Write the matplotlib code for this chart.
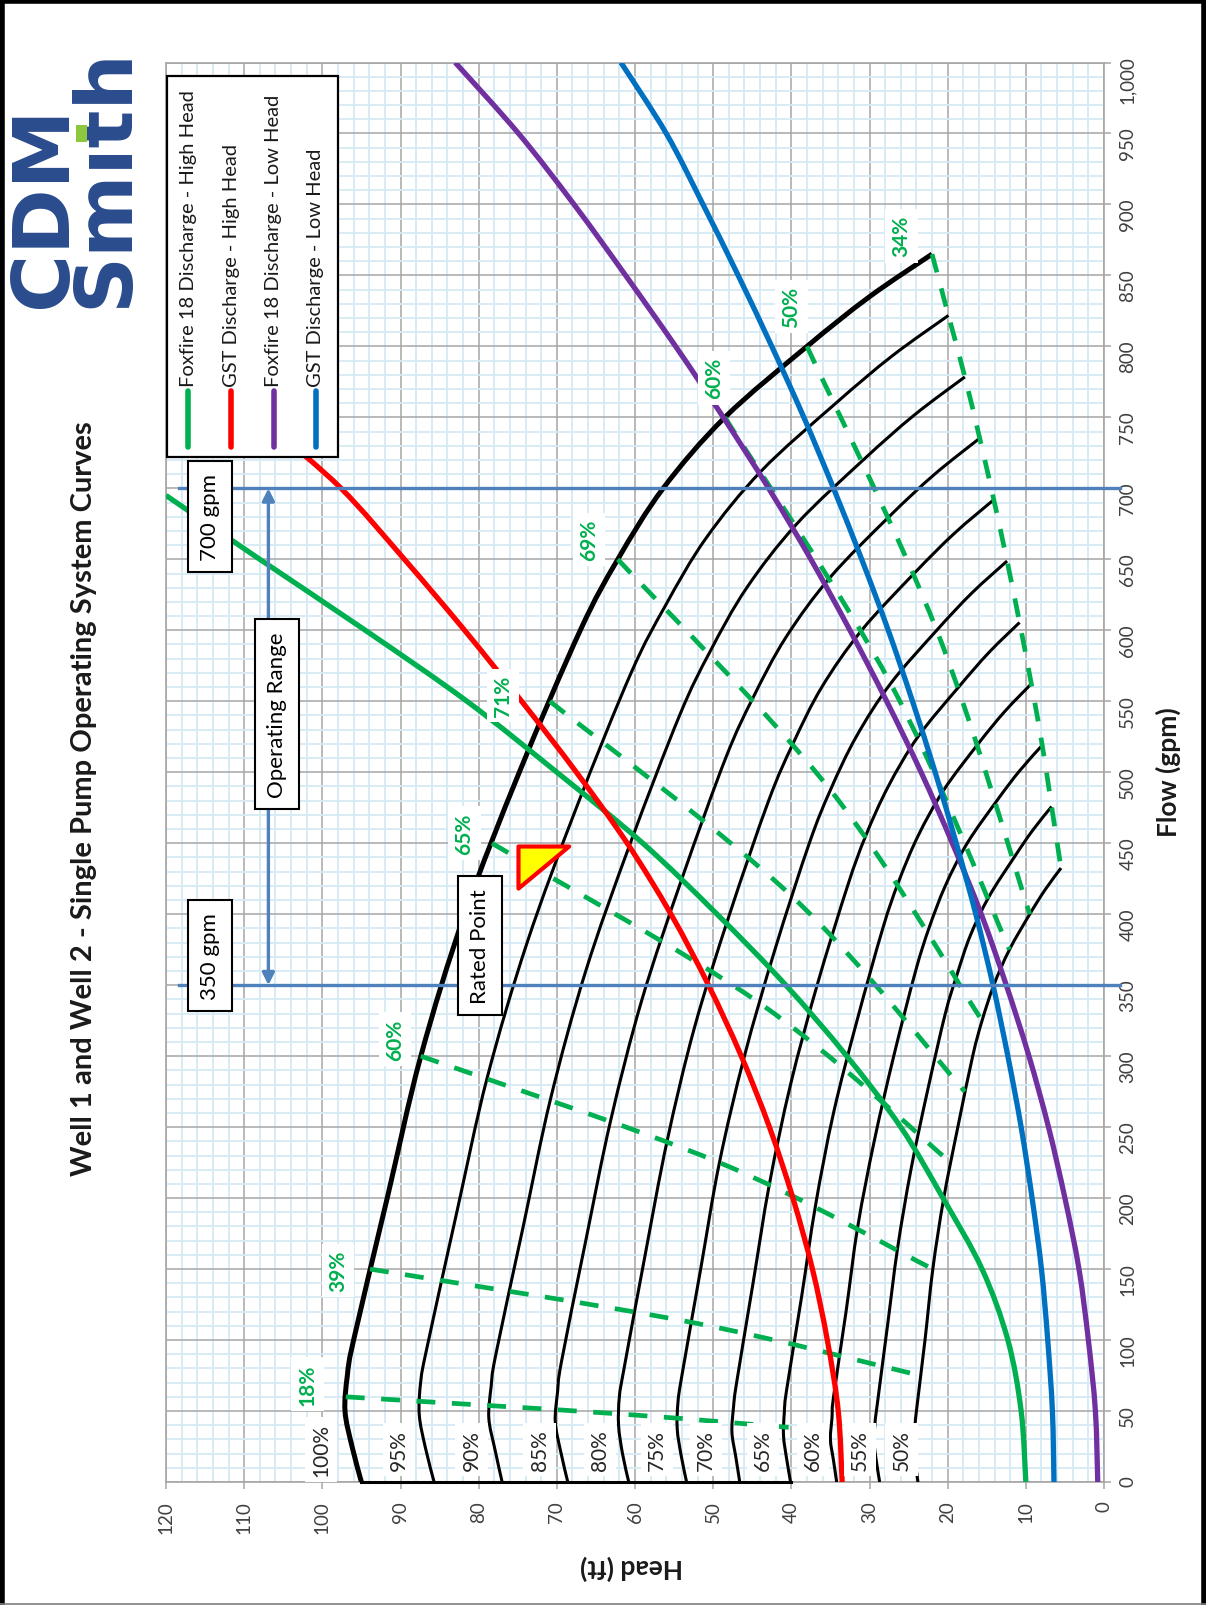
import matplotlib
matplotlib.use('Agg')
import matplotlib.pyplot as plt
from matplotlib.path import Path
from matplotlib.patches import Rectangle, PathPatch
from matplotlib.lines import Line2D
from matplotlib.ticker import MultipleLocator, FuncFormatter

plt.rcParams['font.family'] = ['Lato', 'DejaVu Sans']

# pump curves, flow (gpm) / head (ft), one pair per speed
q100 = [0, 25, 50, 75, 100, 200, 300, 400, 500, 600, 650, 700, 750, 800, 835, 865]
h100 = [95.0, 96.2, 97.1, 96.8, 96.0, 91.7, 87.4, 81.8, 74.8, 67.0, 62.2, 56.4, 48.5, 38.0, 30.0, 22.0]
q95 = [0, 23.8, 47.5, 71.3, 95, 190, 285, 380, 475, 570, 617.5, 665, 712.5, 760, 793.3, 821.8]
h95 = [85.7, 86.8, 87.6, 87.4, 86.6, 82.8, 78.9, 73.8, 67.5, 60.5, 56.1, 50.9, 43.8, 34.3, 27.1, 19.9]
q90 = [0, 22.5, 45, 67.5, 90, 180, 270, 360, 450, 540, 585, 630, 675, 720, 751.5, 778.5]
h90 = [77.0, 77.9, 78.7, 78.4, 77.8, 74.3, 70.8, 66.3, 60.6, 54.3, 50.4, 45.7, 39.3, 30.8, 24.3, 17.8]
q85 = [0, 21.3, 42.5, 63.8, 85, 170, 255, 340, 425, 510, 552.5, 595, 637.5, 680, 709.8, 735.3]
h85 = [68.6, 69.5, 70.2, 69.9, 69.4, 66.3, 63.1, 59.1, 54.0, 48.4, 44.9, 40.7, 35.0, 27.5, 21.7, 15.9]
q80 = [0, 20, 40, 60, 80, 160, 240, 320, 400, 480, 520, 560, 600, 640, 668, 692]
h80 = [60.8, 61.6, 62.1, 62.0, 61.4, 58.7, 55.9, 52.4, 47.9, 42.9, 39.8, 36.1, 31.0, 24.3, 19.2, 14.1]
q75 = [0, 18.8, 37.5, 56.3, 75, 150, 225, 300, 375, 450, 487.5, 525, 562.5, 600, 626.3, 648.8]
h75 = [53.4, 54.1, 54.6, 54.5, 54.0, 51.6, 49.2, 46.0, 42.1, 37.7, 35.0, 31.7, 27.3, 21.4, 16.9, 12.4]
q70 = [0, 17.5, 35, 52.5, 70, 140, 210, 280, 350, 420, 455, 490, 525, 560, 584.5, 605.5]
h70 = [46.6, 47.1, 47.6, 47.4, 47.0, 44.9, 42.8, 40.1, 36.7, 32.8, 30.5, 27.6, 23.8, 18.6, 14.7, 10.8]
q65 = [0, 16.3, 32.5, 48.8, 65, 130, 195, 260, 325, 390, 422.5, 455, 487.5, 520, 542.8, 562.3]
h65 = [40.1, 40.6, 41.0, 40.9, 40.6, 38.7, 36.9, 34.6, 31.6, 28.3, 26.3, 23.8, 20.5, 16.1, 12.7, 9.3]
q60 = [0, 15, 30, 45, 60, 120, 180, 240, 300, 360, 390, 420, 450, 480, 501, 519]
h60 = [34.2, 34.6, 35.0, 34.8, 34.6, 33.0, 31.5, 29.4, 26.9, 24.1, 22.4, 20.3, 17.5, 13.7, 10.8, 7.9]
q55 = [0, 13.8, 27.5, 41.3, 55, 110, 165, 220, 275, 330, 357.5, 385, 412.5, 440, 459.3, 475.8]
h55 = [28.7, 29.1, 29.4, 29.3, 29.0, 27.7, 26.4, 24.7, 22.6, 20.3, 18.8, 17.1, 14.7, 11.5, 9.1, 6.7]
q50 = [0, 12.5, 25, 37.5, 50, 100, 150, 200, 250, 300, 325, 350, 375, 400, 417.5, 432.5]
h50 = [23.8, 24.1, 24.3, 24.2, 24.0, 22.9, 21.9, 20.5, 18.7, 16.8, 15.6, 14.1, 12.1, 9.5, 7.5, 5.5]

speed_labels = ['100%', '95%', '90%', '85%', '80%', '75%', '70%', '65%', '60%', '55%', '50%']
speed_label_head = [100.2, 90.2, 80.9, 72.2, 64.5, 57.2, 50.9, 43.6, 37.2, 31.2, 25.9]
speed_label_flow = [23, 23, 23, 23, 23, 23, 23, 23, 23, 23, 23]

# iso-efficiency lines (dashed green)
eff18_q = [60, 48, 36]
eff18_h = [97.0, 62.1, 34.9]
eff39_q = [150, 112.5, 75]
eff39_h = [93.9, 52.8, 23.5]
eff60a_q = [300, 225, 150]
eff60a_h = [87.4, 49.2, 21.9]
eff65_q = [450, 337.5, 225]
eff65_h = [78.3, 44.1, 19.6]
eff71_q = [550, 412.5, 275]
eff71_h = [70.9, 39.9, 17.8]
eff69_q = [650, 487.5, 325]
eff69_h = [62.2, 35.0, 15.6]
eff60b_q = [750, 562.5, 375]
eff60b_h = [48.5, 27.3, 12.1]
eff50_q = [800, 600, 400]
eff50_h = [38.0, 21.4, 9.5]
eff34_q = [865, 821.8, 778.5, 735.3, 692, 648.8, 605.5, 562.3, 519, 475.8, 432.5]
eff34_h = [22.0, 19.9, 17.8, 15.9, 14.1, 12.4, 10.8, 9.3, 7.9, 6.7, 5.5]

eff_labels = ['18%', '39%', '60%', '65%', '71%', '69%', '60%', '50%', '34%']
eff_label_q = [69, 149, 312, 457, 554, 664, 778, 828, 878]
eff_label_h = [101.9, 98.0, 90.7, 81.8, 76.9, 65.9, 49.9, 40.0, 25.9]

# system curves
green_q = [0, 50, 100, 150, 200, 250, 300, 350, 400, 450, 500, 550, 600, 650, 695]
green_h = [10.0, 10.6, 12.3, 15.6, 20.6, 26.0, 32.9, 40.7, 49.5, 59.0, 70.0, 81.5, 94.5, 108.0, 120.0]
red_q = [0, 50, 100, 150, 200, 250, 300, 350, 400, 450, 500, 550, 600, 650, 700, 740]
red_h = [33.5, 34.0, 35.4, 37.3, 39.8, 42.8, 46.4, 50.6, 55.4, 61.0, 67.5, 74.5, 81.8, 89.5, 97.6, 105.9]
purple_q = [0, 50, 100, 150, 200, 250, 300, 350, 400, 450, 500, 550, 600, 650, 700, 750, 800, 850, 900, 950, 1000]
purple_h = [0.8, 1.1, 2.0, 3.2, 5.0, 7.1, 9.6, 12.5, 15.7, 19.4, 23.4, 27.8, 32.5, 37.5, 42.9, 48.7, 54.8, 61.2, 67.8, 74.9, 83.0]
blue_q = [0, 50, 100, 150, 200, 250, 300, 350, 400, 450, 500, 550, 600, 650, 700, 750, 800, 850, 900, 950, 1000]
blue_h = [6.4, 6.6, 7.2, 8.0, 9.2, 10.6, 12.3, 14.2, 16.4, 18.9, 21.6, 24.5, 27.6, 31.0, 34.6, 38.4, 42.5, 46.8, 51.3, 56.0, 61.8]

series_names = ['Foxfire 18 Discharge - High Head', 'GST Discharge - High Head',
                'Foxfire 18 Discharge - Low Head', 'GST Discharge - Low Head']
series_colors = ['#00B050', '#FF0000', '#7030A0', '#0070C0']

op_flows = [350, 700]
op_head_span = [118.4, -2.0]
arrow_head = 106.9
rated_q = [448]
rated_h = [75.0]


def smooth_line(ax, x, y, **kw):
    # smoothed line through the points (like Excel's "smoothed line" option)
    pts = list(zip(x, y))
    n = len(pts)
    verts = [pts[0]]
    codes = [Path.MOVETO]
    for i in range(n - 1):
        p0 = pts[i - 1] if i > 0 else pts[i]
        p1 = pts[i]
        p2 = pts[i + 1]
        p3 = pts[i + 2] if i + 2 < n else pts[i + 1]
        c1 = (p1[0] + (p2[0] - p0[0]) / 6, p1[1] + (p2[1] - p0[1]) / 6)
        c2 = (p2[0] - (p3[0] - p1[0]) / 6, p2[1] - (p3[1] - p1[1]) / 6)
        verts += [c1, c2, p2]
        codes += [Path.CURVE4] * 3
    ax.add_patch(PathPatch(Path(verts, codes), fill=False, joinstyle='round', **kw))


W, H = 1206, 1606
fig = plt.figure(figsize=(W / 100, H / 100), dpi=100)
fig.patch.set_facecolor('white')
ax = fig.add_axes([166 / W, 1 - 1483 / H, 938 / W, 1419.5 / H])

ax.set_xlim(120, 0)
ax.set_ylim(0, 1000)
ax.xaxis.set_major_locator(MultipleLocator(10))
ax.xaxis.set_minor_locator(MultipleLocator(2))
ax.yaxis.set_major_locator(MultipleLocator(50))
ax.yaxis.set_minor_locator(MultipleLocator(10))
ax.xaxis.set_major_formatter(FuncFormatter(lambda v, p: f'{v:.0f}'))
ax.yaxis.set_major_formatter(FuncFormatter(lambda v, p: f'{v:,.0f}'))
ax.grid(which='minor', color='#D6EBF4', lw=1.3)
ax.grid(which='major', color='#A6A6A6', lw=1.1)
ax.set_axisbelow(True)
ax.yaxis.tick_right()
ax.tick_params(which='minor', length=0)
ax.tick_params(which='major', length=5, width=1.1, color='#A6A6A6',
               labelcolor='#404040', labelsize=13.5, direction='out')
ax.tick_params(axis='x', labelrotation=90, pad=8)
ax.tick_params(axis='y', labelrotation=90, pad=6)
for s in ax.spines.values():
    s.set_color('#A6A6A6')
    s.set_linewidth(1.2)

# pump curves
pump = [(q100, h100), (q95, h95), (q90, h90), (q85, h85), (q80, h80), (q75, h75),
        (q70, h70), (q65, h65), (q60, h60), (q55, h55), (q50, h50)]
for i, (q, h) in enumerate(pump):
    smooth_line(ax, h, q, ec='black', lw=3.6 if i == 0 else 2.2, zorder=3, capstyle='butt')
ax.plot([h100[0], h65[0]], [0, 0], color='black', lw=2.2, zorder=3, clip_on=False)

# efficiency lines
eff = [(eff18_q, eff18_h), (eff39_q, eff39_h), (eff60a_q, eff60a_h), (eff65_q, eff65_h),
       (eff71_q, eff71_h), (eff69_q, eff69_h), (eff60b_q, eff60b_h), (eff50_q, eff50_h),
       (eff34_q, eff34_h)]
for q, h in eff:
    smooth_line(ax, h, q, ec='#00B050', lw=3.4, ls=(0, (4, 3.5)), zorder=4, capstyle='butt')

# system curves
for (q, h), c in zip([(green_q, green_h), (red_q, red_h), (purple_q, purple_h), (blue_q, blue_h)],
                     series_colors):
    smooth_line(ax, h, q, ec=c, lw=3.8, zorder=5, capstyle='butt')

# operating range
for q in op_flows:
    ax.plot(op_head_span, [q, q], color='#4F81BD', lw=2.4, zorder=6, clip_on=False)
ax.annotate('', xy=(arrow_head, op_flows[1]), xytext=(arrow_head, op_flows[0]),
            arrowprops=dict(arrowstyle='<|-|>', color='#4F81BD', lw=2.4,
                            mutation_scale=18, shrinkA=0, shrinkB=0), zorder=6)

box = dict(boxstyle='square,pad=0.55', fc='white', ec='black', lw=1.5)
ax.text(114.4, 680, '700 gpm', rotation=90, ha='center', va='center', fontsize=16, bbox=box, zorder=9)
ax.text(114.4, 371, '350 gpm', rotation=90, ha='center', va='center', fontsize=16, bbox=box, zorder=9)
ax.text(105.8, 541, 'Operating Range', rotation=90, ha='center', va='center', fontsize=16, bbox=box, zorder=9)
ax.text(79.8, 378, 'Rated Point', rotation=90, ha='center', va='center', fontsize=16, bbox=box, zorder=9)

tri = Path([(0, 0), (1, 0), (0, -0.83), (0, 0)],
           [Path.MOVETO, Path.LINETO, Path.LINETO, Path.CLOSEPOLY])
ax.plot(rated_h, rated_q, marker=tri, ms=73, mfc='#FFFF00', mec='#FF0000', mew=3,
        ls='none', zorder=8)

# labels
wbox = dict(boxstyle='square,pad=0.3', fc='white', ec='none')
for t, hh, qq in zip(speed_labels, speed_label_head, speed_label_flow):
    ax.text(hh, qq, t, rotation=90, ha='center', va='center', fontsize=15,
            color='#262626', bbox=wbox, zorder=7)
for t, hh, qq in zip(eff_labels, eff_label_h, eff_label_q):
    ax.text(hh, qq, t, rotation=90, ha='center', va='center', fontsize=15,
            color='#00B050', fontweight='bold', bbox=wbox, zorder=7)

# legend (drawn by hand so it can be rotated)
fig.add_artist(Rectangle((167 / W, 1 - 458 / H), 171 / W, 381 / H, transform=fig.transFigure,
                         fc='white', ec='black', lw=1.6, zorder=10))
for xp, name, c in zip([188, 231, 274, 316], series_names, series_colors):
    fig.add_artist(Line2D([xp / W, xp / W], [1 - 448 / H, 1 - 392 / H], transform=fig.transFigure,
                          color=c, lw=4, solid_capstyle='round', zorder=11))
    fig.text(xp / W, 1 - 387 / H, name, rotation=90, rotation_mode='anchor', ha='left',
             va='center', fontsize=14.5, color='#1a1a1a', zorder=11)

# titles
fig.text(84 / W, 0.503, 'Well 1 and Well 2 - Single Pump Operating System Curves', rotation=90,
         ha='center', va='center', fontsize=21, fontweight='bold', color='#1a1a1a')
fig.text(1168 / W, 1 - 772 / H, 'Flow (gpm)', rotation=90, ha='center', va='center',
         fontsize=19, fontweight='bold', color='#1a1a1a')
fig.text(632 / W, 1 - 1568 / H, 'Head (ft)', rotation=180, ha='center', va='center',
         fontsize=19, fontweight='bold', color='#1a1a1a')

# logo (one two-line text, lines set tight like the brand mark)
fig.text(142 / W, 1 - 308 / H, 'CDM\nSm\u0131th', rotation=90, rotation_mode='anchor',
         ha='left', va='baseline', multialignment='left', linespacing=0.76,
         fontsize=57, fontweight='bold', color='#2A4B8D', family='DejaVu Sans')
fig.add_artist(Rectangle((76 / W, 1 - 143 / H), 11 / W, 17 / H, transform=fig.transFigure,
                         fc='#8DC63F', ec='none', zorder=5))

# page frame
fr = dict(transform=fig.transFigure, color='black', lw=4, zorder=20)
fig.add_artist(Line2D([0, 1], [1 - 2 / H, 1 - 2 / H], **fr))
fig.add_artist(Line2D([2 / W, 2 / W], [0, 1], **fr))
fig.add_artist(Line2D([1 - 2 / W, 1 - 2 / W], [0, 1], **fr))
fig.add_artist(Line2D([0, 1], [1 / H, 1 / H], transform=fig.transFigure, color='#7f7f7f', lw=1.2, zorder=20))

fig.savefig('out.png', dpi=100)
